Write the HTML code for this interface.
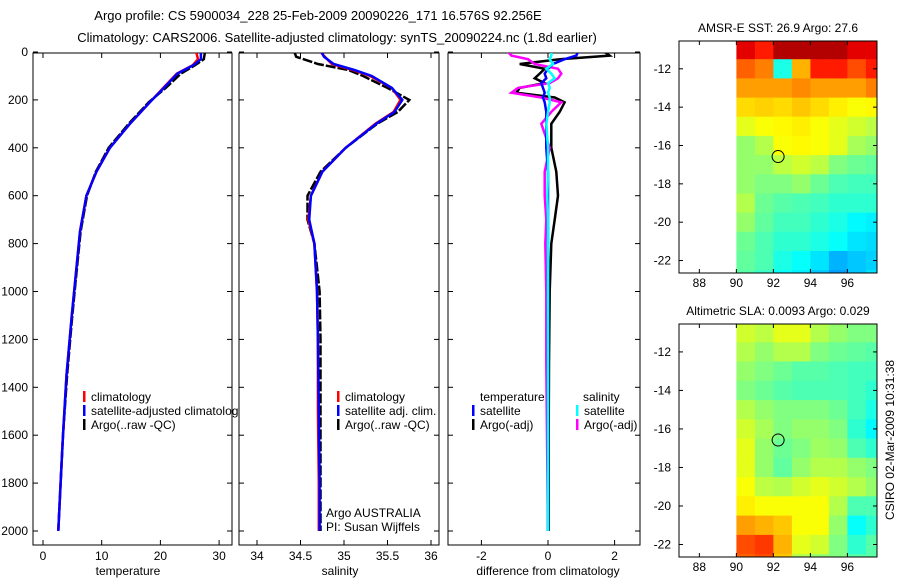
<!DOCTYPE html>
<html><head><meta charset="utf-8"><style>
html,body{margin:0;padding:0;background:#fff;}
svg{display:block;font-family:"Liberation Sans",sans-serif;}
</style></head><body>
<svg id="fig" width="900" height="580" viewBox="0 0 900 580">
<defs>
<clipPath id="c1"><rect x="33" y="53" width="199" height="492"/></clipPath>
<clipPath id="c2"><rect x="239" y="53" width="200" height="492"/></clipPath>
<clipPath id="c3"><rect x="448" y="53" width="192" height="492"/></clipPath>
<clipPath id="m1"><rect x="679" y="41" width="198" height="232"/></clipPath>
<clipPath id="m2"><rect x="679" y="324" width="198" height="233"/></clipPath>
</defs>
<text x="318" y="20" font-size="13" text-anchor="middle">Argo profile: CS 5900034_228 25-Feb-2009 20090226_171 16.576S 92.256E</text>
<text x="337" y="42" font-size="13" text-anchor="middle">Climatology: CARS2006. Satellite-adjusted climatology: synTS_20090224.nc (1.8d earlier)</text>
<g id="root"></g>
</svg>
<script>
// ---- profile data ----
const tempDepths = [0,30,55,90,150,210,300,400,500,600,750,900,1100,1350,1600,1800,2000];
const tempClim = [26.1,26.4,25.5,22.8,20.5,18.2,14.8,11.4,9.1,7.4,6.3,5.7,4.9,4.0,3.4,3.0,2.6];
const tempSat  = [26.9,26.9,25.6,22.9,20.6,18.2,14.8,11.4,9.1,7.4,6.3,5.7,4.9,4.0,3.4,3.0,2.6];
const tempArgo = [27.6,27.4,25.9,23.5,20.9,18.0,14.6,11.2,9.0,7.5,6.4,5.8,5.0,4.1,3.4,3.0,2.6];
const depths = [0,20,50,75,100,150,200,250,300,400,500,600,700,800,1000,1200,1500,1800,2000];
const salClim = [34.73,34.78,34.86,35.1,35.3,35.55,35.65,35.57,35.36,35.02,34.75,34.62,34.59,34.66,34.69,34.70,34.70,34.71,34.71];
const salSat  = [34.74,34.77,34.88,35.12,35.32,35.55,35.67,35.58,35.37,35.02,34.75,34.62,34.60,34.66,34.69,34.70,34.71,34.72,34.72];
const salArgo = [34.43,34.45,34.7,35.05,35.22,35.5,35.75,35.62,35.38,35.02,34.73,34.58,34.58,34.66,34.72,34.73,34.73,34.73,34.73];
const diffDepths = [0,15,30,50,70,90,110,130,150,170,190,210,250,300,400,500,600,700,800,1000,1300,1600,2000];
const dTempArgo = [1.7,1.85,0.35,-0.85,-0.1,-0.25,-0.4,-0.1,-0.85,-0.95,0.2,0.5,0.35,0.1,0.1,0.25,0.3,0.2,0.1,0.05,0.03,0.02,0.02];
const dTempSat  = [0.9,0.85,0.5,0.15,0,-0.1,-0.05,-0.2,-0.15,-0.1,-0.15,-0.1,-0.05,-0.05,-0.05,0,0,0,0,0,0,0,0];
const dSalArgo  = [-1.2,-1.1,-0.6,-0.4,0.3,0.4,0.3,0.05,-0.9,-1.1,-0.2,0.4,0.1,-0.2,0.05,-0.1,-0.1,-0.05,-0.08,-0.05,-0.05,-0.03,0];
const dSalSat   = [0.1,0.1,0.05,0.15,-0.05,0.1,0.2,0,0.05,0,0.05,0.05,0,-0.05,0,0,-0.02,0,0,0,0,0,0];
const depthTicks = [0,200,400,600,800,1000,1200,1400,1600,1800,2000];
const tempTicks = [0,10,20,30];
const salTicks = [34,34.5,35,35.5,36];
const salTickLabels = ["34","34.5","35","35.5","36"];
const diffTicks = [-2,0,2];
// ---- map data (jet colormap fraction), rows from -10.5 south by 1 deg, cols lon 90..97 ----
const mapLons = [90,91,92,93,94,95,96,97];
const mapLatTops = [-10.5,-11.5,-12.5,-13.5,-14.5,-15.5,-16.5,-17.5,-18.5,-19.5,-20.5,-21.5,-22.5];
const sstGrid = [
[0.9,0.85,0.95,0.95,0.95,0.95,0.9,0.9],
[0.78,0.75,0.4,0.7,0.85,0.85,0.8,0.85],
[0.72,0.72,0.72,0.74,0.72,0.72,0.72,0.75],
[0.66,0.67,0.66,0.68,0.66,0.64,0.62,0.63],
[0.6,0.62,0.63,0.64,0.62,0.6,0.58,0.56],
[0.52,0.55,0.62,0.63,0.62,0.6,0.54,0.52],
[0.52,0.52,0.56,0.58,0.56,0.5,0.48,0.47],
[0.52,0.5,0.5,0.52,0.48,0.45,0.44,0.44],
[0.55,0.48,0.46,0.45,0.44,0.42,0.42,0.42],
[0.52,0.47,0.44,0.44,0.42,0.4,0.37,0.36],
[0.48,0.45,0.42,0.42,0.4,0.38,0.35,0.34],
[0.47,0.45,0.4,0.38,0.35,0.3,0.32,0.33],
[0.46,0.43,0.38,0.36,0.32,0.28,0.32,0.35]];
const slaGrid = [
[0.58,0.56,0.6,0.6,0.55,0.52,0.5,0.5],
[0.55,0.52,0.55,0.55,0.5,0.48,0.47,0.46],
[0.52,0.5,0.48,0.46,0.46,0.45,0.44,0.44],
[0.5,0.48,0.46,0.45,0.45,0.45,0.44,0.42],
[0.55,0.52,0.5,0.5,0.5,0.48,0.44,0.4],
[0.58,0.54,0.5,0.52,0.52,0.5,0.42,0.37],
[0.6,0.52,0.48,0.5,0.53,0.52,0.45,0.42],
[0.6,0.52,0.47,0.52,0.55,0.55,0.52,0.5],
[0.62,0.56,0.55,0.58,0.6,0.58,0.55,0.52],
[0.64,0.62,0.62,0.62,0.62,0.55,0.45,0.45],
[0.72,0.7,0.68,0.62,0.62,0.52,0.38,0.42],
[0.8,0.82,0.7,0.6,0.58,0.5,0.42,0.46],
[0.78,0.8,0.68,0.55,0.52,0.5,0.46,0.46]];
const argoLon = 92.256, argoLat = -16.576;
const lonTicks = [88,90,92,94,96];
const latTicks = [-12,-14,-16,-18,-20,-22];

const NS="http://www.w3.org/2000/svg";
const root=document.getElementById('root');
function mk(tag,attrs,parent){const e=document.createElementNS(NS,tag);for(const k in attrs)e.setAttribute(k,attrs[k]);(parent||root).appendChild(e);return e;}
const yD = d => 52 + d*0.2395;
const xT = v => 43 + v*5.87;
const xS = v => 257 + (v-34)*87;
const xDf = v => 548 + v*33.3;
function line(xs,ys,xf,yf,color,clip,name,dash){
  const pts=xs.map((v,i)=>xf(v).toFixed(1)+','+yf(ys[i]).toFixed(1)).join(' ');
  const p=mk('polyline',{points:pts,fill:'none',stroke:color,'stroke-width':2.5,'clip-path':'url(#'+clip+')'});
  if(dash)p.setAttribute('stroke-dasharray',dash);
  
  
}
function frame(x,y,w,h,name){
  const r=mk('rect',{x:x,y:y,width:w,height:h,fill:'#fff',stroke:'#000','stroke-width':1});
  
  
}
function txt(x,y,s,size,anchor,name,extra){
  const t=mk('text',Object.assign({x:x,y:y,'font-size':size,'text-anchor':anchor||'start'},extra||{}));
  t.textContent=s;
  
  
  return t;
}
function tickLine(x1,y1,x2,y2){mk('line',{x1:x1,y1:y1,x2:x2,y2:y2,stroke:'#000','stroke-width':1});}
function profileAxes(x0,x1,xticks,xf,labels,title,cx,showY){
  depthTicks.forEach(d=>{const y=yD(d);tickLine(x0,y,x0+5,y);tickLine(x1-5,y,x1,y);
    if(showY)txt(28,y+4,String(d),12,'end','depth-tick-label');});
  xticks.forEach((v,i)=>{const x=xf(v);tickLine(x,545,x,540);tickLine(x,53,x,58);
    txt(x,560,labels[i],12,'middle','x-tick-label');});
  txt(cx,575,title,12,'middle','x-axis-title');
}
// Panel 1
frame(33,53,199,492,'temperature-panel');
profileAxes(33,232,tempTicks,xT,tempTicks.map(String),'temperature',128,true);
line(tempArgo,tempDepths,xT,yD,'#000','c1','temp-argo-line','10,2');
line(tempClim,tempDepths,xT,yD,'#f00','c1','temp-clim-line');
line(tempSat,tempDepths,xT,yD,'#00f','c1','temp-sat-line');
[['#f00','climatology'],['#00f','satellite-adjusted climatology'],['#000','Argo(..raw -QC)']].forEach((e,i)=>{
  const y=397+i*14;mk('rect',{x:83,y:y-6,width:2.5,height:11,fill:e[0]});
  txt(91,y+4,e[1],12,'start','temp-legend-entry');});
// Panel 2
frame(239,53,200,492,'salinity-panel');
profileAxes(239,439,salTicks,xS,salTickLabels,'salinity',340,false);
line(salArgo,depths,xS,yD,'#000','c2','sal-argo-line','10,2');
line(salClim,depths,xS,yD,'#f00','c2','sal-clim-line');
line(salSat,depths,xS,yD,'#00f','c2','sal-sat-line');
[['#f00','climatology'],['#00f','satellite adj. clim.'],['#000','Argo(..raw -QC)']].forEach((e,i)=>{
  const y=397+i*14;mk('rect',{x:337,y:y-6,width:2.5,height:11,fill:e[0]});
  txt(345,y+4,e[1],12,'start','sal-legend-entry');});
txt(326,517,'Argo AUSTRALIA',12,'start','argo-australia-label');
txt(326,531,'PI: Susan Wijffels',12,'start','pi-label');
// Panel 3
frame(448,53,192,492,'difference-panel');
profileAxes(448,640,diffTicks,xDf,diffTicks.map(String),'difference from climatology',548,false);
line(dTempArgo,diffDepths,xDf,yD,'#000','c3','dtemp-argo-line');
line(dSalArgo,diffDepths,xDf,yD,'#f0f','c3','dsal-argo-line');
line(dTempSat,diffDepths,xDf,yD,'#00f','c3','dtemp-sat-line');
line(dSalSat,diffDepths,xDf,yD,'#0ff','c3','dsal-sat-line');
txt(480,401,'temperature',12,'start','diff-legend-temperature');
txt(583,401,'salinity',12,'start','diff-legend-salinity');
[['#00f','satellite',472],['#000','Argo(-adj)',472],['#0ff','satellite',576],['#f0f','Argo(-adj)',576]].forEach((e,i)=>{
  const y=411+(i%2)*14;mk('rect',{x:e[2],y:y-6,width:2.5,height:11,fill:e[0]});
  txt(e[2]+8,y+4,e[1],12,'start','diff-legend-entry');});
// Maps
function jet(v){const c=t=>Math.round(255*Math.max(0,Math.min(1,1.5-Math.abs(4*v-t))));return 'rgb('+c(3)+','+c(2)+','+c(1)+')';}
function drawMap(grid,top,bottom,clip,title,name){
  const latTop=-10.55, latBot=-22.65, lonL=86.9, lonR=97.6;
  const xM=lon=>679+(lon-lonL)*(198/(lonR-lonL));
  const yM=lat=>top+(latTop-lat)*((bottom-top)/(latTop-latBot));
  frame(679,top,198,bottom-top,name);
  const g=mk('g',{'clip-path':'url(#'+clip+')'});
  grid.forEach((row,r)=>row.forEach((v,c)=>{
    const x0=xM(mapLons[c]),x1=xM(mapLons[c]+1),y0=yM(mapLatTops[r]+ (r===0?1:0)),y1=yM(mapLatTops[r]-1);
    const cell=mk('rect',{x:x0.toFixed(1),y:y0.toFixed(1),width:(x1-x0+0.5).toFixed(1),height:(y1-y0+0.5).toFixed(1),fill:jet(v)},g);
    
    
  }));
  mk('rect',{x:679,y:top,width:198,height:bottom-top,fill:'none',stroke:'#000','stroke-width':1});
  const circ=mk('circle',{cx:xM(argoLon),cy:yM(argoLat),r:6,fill:'none',stroke:'#000','stroke-width':1});
  
  
  lonTicks.forEach(l=>{const x=xM(l);tickLine(x,bottom,x,bottom-4);tickLine(x,top,x,top+4);txt(x,bottom+14,String(l),12,'middle','lon-tick-label');});
  latTicks.forEach(l=>{const y=yM(l);tickLine(679,y,683,y);tickLine(873,y,877,y);txt(671,y+4,String(l),12,'end','lat-tick-label');});
  txt(778,top-9,title,12,'middle','map-title');
}
drawMap(sstGrid,41,273,'m1','AMSR-E SST: 26.9 Argo: 27.6','sst-map');
drawMap(slaGrid,324,557,'m2','Altimetric SLA: 0.0093 Argo: 0.029','sla-map');
txt(0,0,'CSIRO 02-Mar-2009 10:31:38',12,'middle','timestamp-label',{transform:'translate(894,440) rotate(-90)'});
</script>
</body></html>
